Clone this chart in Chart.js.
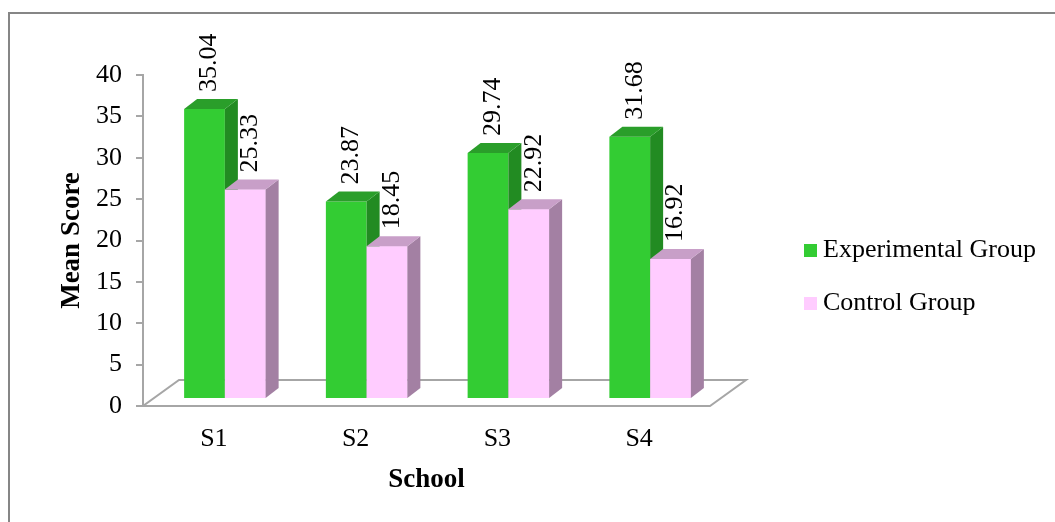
<!DOCTYPE html>
<html lang="en">
<head>
  <meta charset="UTF-8">
  <title>Mean Score by School</title>
  <script src="https://cdn.jsdelivr.net/npm/chart.js"></script>
  <style>
    html, body { margin: 0; padding: 0; background: #fff; }
    #chart { display: block; }
  </style>
</head>
<body>
  <canvas id="chart" width="1055" height="522"></canvas>

  <script>
    // data
    const schools = ["S1", "S2", "S3", "S4"];
    const experimentalGroup = [35.04, 23.87, 29.74, 31.68];
    const controlGroup = [25.33, 18.45, 22.92, 16.92];
    const yTicks = [0, 5, 10, 15, 20, 25, 30, 35, 40];

    const serif = "'Liberation Serif', 'Times New Roman', serif";
    const faces = [
      { front: "#33cc33", side: "#228b22", top: "#2a9e2a" },
      { front: "#ffccff", side: "#a380a3", top: "#c89fc8" }
    ];
    const shift = { x: 11, y: -7 };   // bars sit a little back on the floor
    const depth = { x: 13, y: -10 };  // bar thickness
    const floorDepth = { x: 36, y: -26 };

    const bar3d = {
      id: "bar3d",
      beforeDraw(chart) {
        const ctx = chart.ctx;
        ctx.save();
        ctx.fillStyle = "#fff";
        ctx.fillRect(0, 0, chart.width, chart.height);
        ctx.strokeStyle = "#868686";
        ctx.lineWidth = 2;
        ctx.strokeRect(9, 13, chart.width + 20, chart.height + 20);
        ctx.restore();
      },
      beforeDatasetsDraw(chart) {
        const ctx = chart.ctx;
        const a = chart.chartArea;
        // floor
        ctx.save();
        ctx.strokeStyle = "#a6a6a6";
        ctx.lineWidth = 2;
        ctx.beginPath();
        ctx.moveTo(a.left, a.bottom);
        ctx.lineTo(a.right, a.bottom);
        ctx.lineTo(a.right + floorDepth.x, a.bottom + floorDepth.y);
        ctx.lineTo(a.left + floorDepth.x, a.bottom + floorDepth.y);
        ctx.closePath();
        ctx.stroke();
        ctx.restore();

        ctx.save();
        ctx.translate(shift.x, shift.y);
      },
      afterDatasetsDraw(chart) {
        const ctx = chart.ctx;
        // side and top faces, left series first so the next front hides its side
        chart.data.datasets.forEach((ds, i) => {
          const f = faces[i];
          chart.getDatasetMeta(i).data.forEach(bar => {
            if (i > 0) bar.draw(ctx);
            const { x, y, base, width } = bar.getProps(["x", "y", "base", "width"], true);
            const l = x - width / 2, r = x + width / 2;
            ctx.fillStyle = f.side;
            ctx.beginPath();
            ctx.moveTo(r, y);
            ctx.lineTo(r + depth.x, y + depth.y);
            ctx.lineTo(r + depth.x, base + depth.y);
            ctx.lineTo(r, base);
            ctx.closePath();
            ctx.fill();
            ctx.fillStyle = f.top;
            ctx.beginPath();
            ctx.moveTo(l, y);
            ctx.lineTo(l + depth.x, y + depth.y);
            ctx.lineTo(r + depth.x, y + depth.y);
            ctx.lineTo(r, y);
            ctx.closePath();
            ctx.fill();
          });
        });

        // value labels, rotated
        ctx.font = "26px " + serif;
        ctx.fillStyle = "#000";
        ctx.textAlign = "left";
        ctx.textBaseline = "middle";
        chart.data.datasets.forEach((ds, i) => {
          chart.getDatasetMeta(i).data.forEach((bar, j) => {
            const { x, y } = bar.getProps(["x", "y"], true);
            ctx.save();
            ctx.translate(x + 5, y + depth.y - 7);
            ctx.rotate(-Math.PI / 2);
            ctx.fillText(ds.data[j].toFixed(2), 0, 0);
            ctx.restore();
          });
        });
        ctx.restore();
      },
      afterDraw(chart) {
        // legend
        const ctx = chart.ctx;
        ctx.save();
        ctx.font = "26px " + serif;
        ctx.textBaseline = "middle";
        ctx.textAlign = "left";
        chart.data.datasets.forEach((ds, i) => {
          const cy = 250 + i * 53;
          ctx.fillStyle = ds.backgroundColor;
          ctx.fillRect(804, cy - 6, 13, 13);
          ctx.fillStyle = "#000";
          ctx.fillText(ds.label, 823, cy);
        });
        ctx.restore();
      }
    };

    new Chart(document.getElementById("chart"), {
      type: "bar",
      data: {
        labels: schools,
        datasets: [
          { label: "Experimental Group", data: experimentalGroup, backgroundColor: faces[0].front },
          { label: "Control Group", data: controlGroup, backgroundColor: faces[1].front }
        ]
      },
      options: {
        responsive: false,
        animation: false,
        events: [],
        layout: { padding: { left: 20, top: 75, right: 345, bottom: 10 } },
        datasets: {
          bar: { categoryPercentage: 0.575, barPercentage: 1.0, borderWidth: 0 }
        },
        plugins: {
          legend: { display: false },
          tooltip: { enabled: false }
        },
        scales: {
          x: {
            grid: { display: false, drawTicks: false },
            border: { display: false },
            ticks: { color: "#000", font: { family: serif, size: 26 }, padding: 18 },
            title: {
              display: true, text: "School", color: "#000",
              font: { family: serif, size: 27, weight: "bold" },
              padding: { top: 0, bottom: 16 }
            },
            afterFit(scale) { scale.height = 106; }
          },
          y: {
            min: yTicks[0],
            max: yTicks[yTicks.length - 1],
            afterBuildTicks(scale) { scale.ticks = yTicks.map(v => ({ value: v })); },
            grid: { drawOnChartArea: false, drawTicks: true, tickLength: 7, color: "#a6a6a6", lineWidth: 2 },
            border: { display: true, color: "#a6a6a6", width: 2 },
            ticks: { color: "#000", font: { family: serif, size: 26 }, padding: 14 },
            title: {
              display: true, text: "Mean Score", color: "#000",
              font: { family: serif, size: 27, weight: "bold" },
              padding: { top: 36, bottom: 0 }
            },
            afterFit(scale) { scale.width = 123; }
          }
        }
      },
      plugins: [bar3d]
    });
  </script>
</body>
</html>
